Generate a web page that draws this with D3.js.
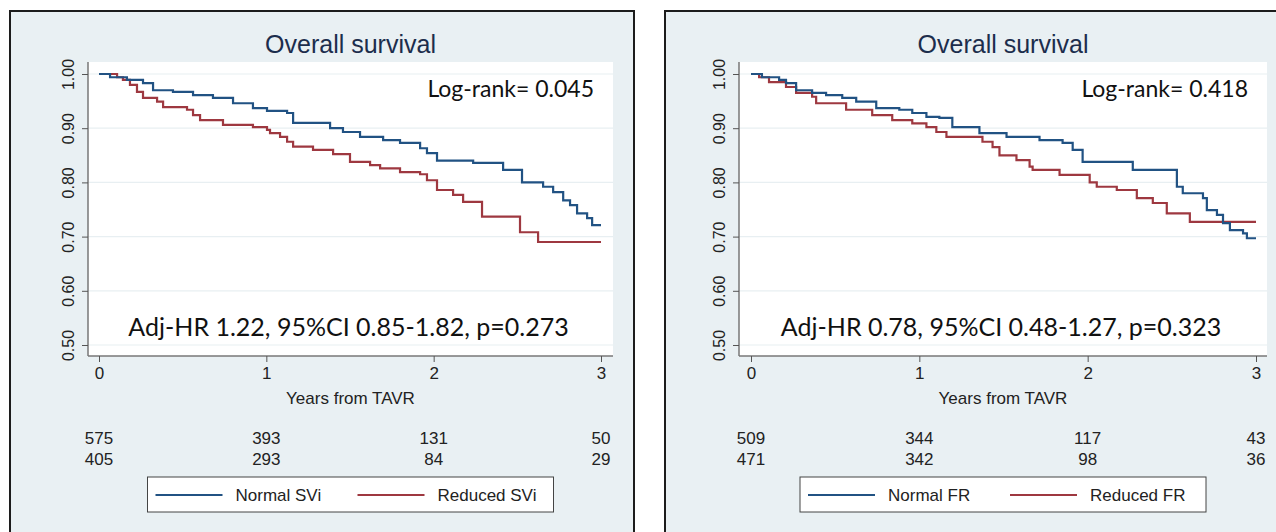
<!DOCTYPE html>
<html>
<head>
<meta charset="utf-8">
<script src="https://d3js.org/d3.v7.min.js"></script>
<style>
  body { margin: 0; background: #ffffff; }
  svg { display: block; }
</style>
</head>
<body>
<div id="chart"></div>
<script>
// years from TAVR at which the numbers at risk are given
var riskTimes = [0, 1, 2, 3];
var yTicks = [0.50, 0.60, 0.70, 0.80, 0.90, 1.00];

// left panel: stroke volume index
var sviNormalT = [0, 0.066, 0.167, 0.263, 0.323, 0.442, 0.562, 0.681, 0.801, 0.920, 1.004, 1.124, 1.160,
                  1.381, 1.458, 1.560, 1.698, 1.799, 1.919, 1.960, 2.020, 2.236, 2.415, 2.528, 2.654,
                  2.714, 2.774, 2.815, 2.857, 2.917, 2.947];
var sviNormalS = [1.000, 0.994, 0.989, 0.983, 0.970, 0.967, 0.961, 0.956, 0.946, 0.937, 0.932, 0.928, 0.910,
                  0.900, 0.893, 0.884, 0.878, 0.873, 0.863, 0.854, 0.840, 0.836, 0.823, 0.800, 0.792,
                  0.782, 0.767, 0.758, 0.743, 0.734, 0.721];
var sviReducedT = [0, 0.108, 0.143, 0.185, 0.227, 0.263, 0.347, 0.383, 0.526, 0.562, 0.604, 0.741, 0.920,
                   1.004, 1.022, 1.082, 1.124, 1.160, 1.279, 1.399, 1.500, 1.620, 1.680, 1.799, 1.919,
                   1.960, 2.020, 2.116, 2.176, 2.289, 2.516, 2.624];
var sviReducedS = [1.000, 0.994, 0.989, 0.980, 0.967, 0.956, 0.949, 0.939, 0.934, 0.924, 0.915, 0.906, 0.902,
                   0.897, 0.891, 0.884, 0.875, 0.866, 0.860, 0.852, 0.838, 0.832, 0.826, 0.819, 0.815,
                   0.804, 0.786, 0.777, 0.764, 0.737, 0.708, 0.690];
var sviNormalRisk = [575, 393, 131, 50];
var sviReducedRisk = [405, 293, 84, 29];

// right panel: flow rate
var frNormalT = [0, 0.065, 0.167, 0.208, 0.268, 0.363, 0.446, 0.542, 0.625, 0.744, 0.881, 0.958, 1.042,
                 1.119, 1.196, 1.357, 1.518, 1.714, 1.851, 1.911, 1.970, 2.268, 2.530, 2.565, 2.685,
                 2.708, 2.768, 2.804, 2.845, 2.923, 2.946];
var frNormalS = [1.000, 0.994, 0.989, 0.983, 0.970, 0.965, 0.961, 0.956, 0.949, 0.937, 0.934, 0.928, 0.921,
                 0.919, 0.902, 0.891, 0.884, 0.878, 0.873, 0.860, 0.838, 0.823, 0.792, 0.780, 0.771,
                 0.749, 0.740, 0.725, 0.712, 0.706, 0.697];
var frReducedT = [0, 0.048, 0.107, 0.208, 0.268, 0.363, 0.387, 0.565, 0.720, 0.839, 0.958, 1.042, 1.101,
                  1.161, 1.375, 1.435, 1.476, 1.577, 1.655, 1.673, 1.833, 2.012, 2.054, 2.173, 2.292,
                  2.387, 2.470, 2.607];
var frReducedS = [1.000, 0.994, 0.985, 0.976, 0.965, 0.958, 0.946, 0.934, 0.924, 0.915, 0.909, 0.902, 0.893,
                  0.884, 0.875, 0.865, 0.850, 0.841, 0.829, 0.823, 0.814, 0.800, 0.792, 0.786, 0.771,
                  0.762, 0.743, 0.727];
var frNormalRisk = [509, 344, 117, 43];
var frReducedRisk = [471, 342, 98, 36];

var blue = "#215283", red = "#9e3840";
var stataFont = "'Liberation Sans', Arial, sans-serif";
var noteFont = "Lato, 'Open Sans', sans-serif";

var svg = d3.select("#chart").append("svg")
  .attr("width", 1276)
  .attr("height", 532);

var panels = [
  { left: 10, plotL: 88, plotR: 613, x0: 99, x3: 601,
    normalT: sviNormalT, normalS: sviNormalS, reducedT: sviReducedT, reducedS: sviReducedS,
    normalRisk: sviNormalRisk, reducedRisk: sviReducedRisk,
    logrank: "Log-rank= 0.045", hr: "Adj-HR 1.22, 95%CI 0.85-1.82, p=0.273",
    names: ["Normal SVi", "Reduced SVi"] },
  { left: 665, plotL: 739, plotR: 1267, x0: 751, x3: 1256,
    normalT: frNormalT, normalS: frNormalS, reducedT: frReducedT, reducedS: frReducedS,
    normalRisk: frNormalRisk, reducedRisk: frReducedRisk,
    logrank: "Log-rank= 0.418", hr: "Adj-HR 0.78, 95%CI 0.48-1.27, p=0.323",
    names: ["Normal FR", "Reduced FR"] }
];

panels.forEach(function(p) {
  var g = svg.append("g");

  // graph region
  g.append("rect")
    .attr("x", p.left).attr("y", 11)
    .attr("width", 624).attr("height", 540)
    .attr("fill", "#e9f0f3")
    .attr("stroke", "#1c1c1c")
    .attr("stroke-width", 2);

  var top = 62, bottom = 356;
  g.append("rect")
    .attr("x", p.plotL).attr("y", top)
    .attr("width", p.plotR - p.plotL).attr("height", bottom - top)
    .attr("fill", "#ffffff");

  var x = d3.scaleLinear().domain([0, 3]).range([p.x0, p.x3]);
  var y = d3.scaleLinear().domain([0.5, 1.0]).range([345, 74]);
  var cx = (p.plotL + p.plotR) / 2;

  // grid lines
  g.selectAll(".grid")
    .data(yTicks)
    .enter().append("line")
      .attr("x1", p.plotL).attr("x2", p.plotR)
      .attr("y1", function(d) { return y(d); })
      .attr("y2", function(d) { return y(d); })
      .attr("stroke", "#e8eff2")
      .attr("stroke-width", 1.2);

  // y axis
  var yAxis = g.append("g")
    .attr("transform", "translate(" + p.plotL + ",0)")
    .call(d3.axisLeft(y).tickValues(yTicks).tickFormat(d3.format(".2f")).tickSize(6).tickSizeOuter(0));
  yAxis.select(".domain").attr("d", "M0," + top + "V" + bottom).attr("stroke", "#777").attr("stroke-width", 1.5);
  yAxis.selectAll(".tick line").attr("stroke", "#555");
  yAxis.selectAll(".tick text")
    .attr("x", 0).attr("dy", 0)
    .attr("transform", "translate(-20,0) rotate(-90)")
    .attr("text-anchor", "middle")
    .attr("dominant-baseline", "central")
    .style("font-family", stataFont)
    .style("font-size", "16px")
    .attr("fill", "#222");

  // x axis
  var xAxis = g.append("g")
    .attr("transform", "translate(0," + bottom + ")")
    .call(d3.axisBottom(x).tickValues(riskTimes).tickFormat(d3.format("d")).tickSize(6).tickSizeOuter(0));
  xAxis.select(".domain").attr("d", "M" + p.plotL + ",0H" + p.plotR).attr("stroke", "#777").attr("stroke-width", 1.5);
  xAxis.selectAll(".tick line").attr("stroke", "#555");
  xAxis.selectAll(".tick text")
    .attr("y", 11)
    .style("font-family", stataFont)
    .style("font-size", "17px")
    .attr("fill", "#222");

  g.append("text")
    .attr("x", cx).attr("y", 404)
    .attr("text-anchor", "middle")
    .style("font-family", stataFont)
    .style("font-size", "17px")
    .attr("fill", "#222")
    .text("Years from TAVR");

  // title
  g.append("text")
    .attr("x", cx).attr("y", 53)
    .attr("text-anchor", "middle")
    .style("font-family", stataFont)
    .style("font-size", "25px")
    .attr("fill", "#1c2d4c")
    .text("Overall survival");

  // survival curves
  var line = d3.line()
    .curve(d3.curveStepAfter)
    .x(function(d) { return x(d[0]); })
    .y(function(d) { return y(d[1]); });

  function steps(ts, ss) {
    var pts = ts.map(function(t, i) { return [t, ss[i]]; });
    pts.push([3, ss[ss.length - 1]]);
    return pts;
  }

  g.append("path")
    .attr("d", line(steps(p.reducedT, p.reducedS)))
    .attr("fill", "none").attr("stroke", red).attr("stroke-width", 2.2);
  g.append("path")
    .attr("d", line(steps(p.normalT, p.normalS)))
    .attr("fill", "none").attr("stroke", blue).attr("stroke-width", 2.2);

  // annotations
  g.append("text")
    .attr("x", p.plotR - 19).attr("y", 97)
    .attr("text-anchor", "end")
    .style("font-family", noteFont)
    .style("font-size", "23px")
    .attr("fill", "#111")
    .text(p.logrank);
  g.append("text")
    .attr("x", cx - 2).attr("y", 336)
    .attr("text-anchor", "middle")
    .style("font-family", noteFont)
    .style("font-size", "25px")
    .attr("fill", "#111")
    .text(p.hr);

  // numbers at risk
  [p.normalRisk, p.reducedRisk].forEach(function(row, r) {
    g.selectAll(null)
      .data(row)
      .enter().append("text")
        .attr("x", function(d, i) { return x(riskTimes[i]); })
        .attr("y", 444 + r * 21)
        .attr("text-anchor", "middle")
        .style("font-family", stataFont)
        .style("font-size", "17px")
        .attr("fill", "#222")
        .text(function(d) { return d; });
  });

  // legend
  var lx = cx - 203;
  g.append("rect")
    .attr("x", lx).attr("y", 477)
    .attr("width", 406).attr("height", 35)
    .attr("fill", "#ffffff")
    .attr("stroke", "#444").attr("stroke-width", 1);
  [[blue, 8, p.names[0]], [red, 210, p.names[1]]].forEach(function(k) {
    g.append("line")
      .attr("x1", lx + k[1]).attr("x2", lx + k[1] + 67)
      .attr("y1", 495).attr("y2", 495)
      .attr("stroke", k[0]).attr("stroke-width", 2.2);
    g.append("text")
      .attr("x", lx + k[1] + 80).attr("y", 501)
      .style("font-family", stataFont)
      .style("font-size", "17px")
      .attr("fill", "#222")
      .text(k[2]);
  });
});
</script>
</body>
</html>
